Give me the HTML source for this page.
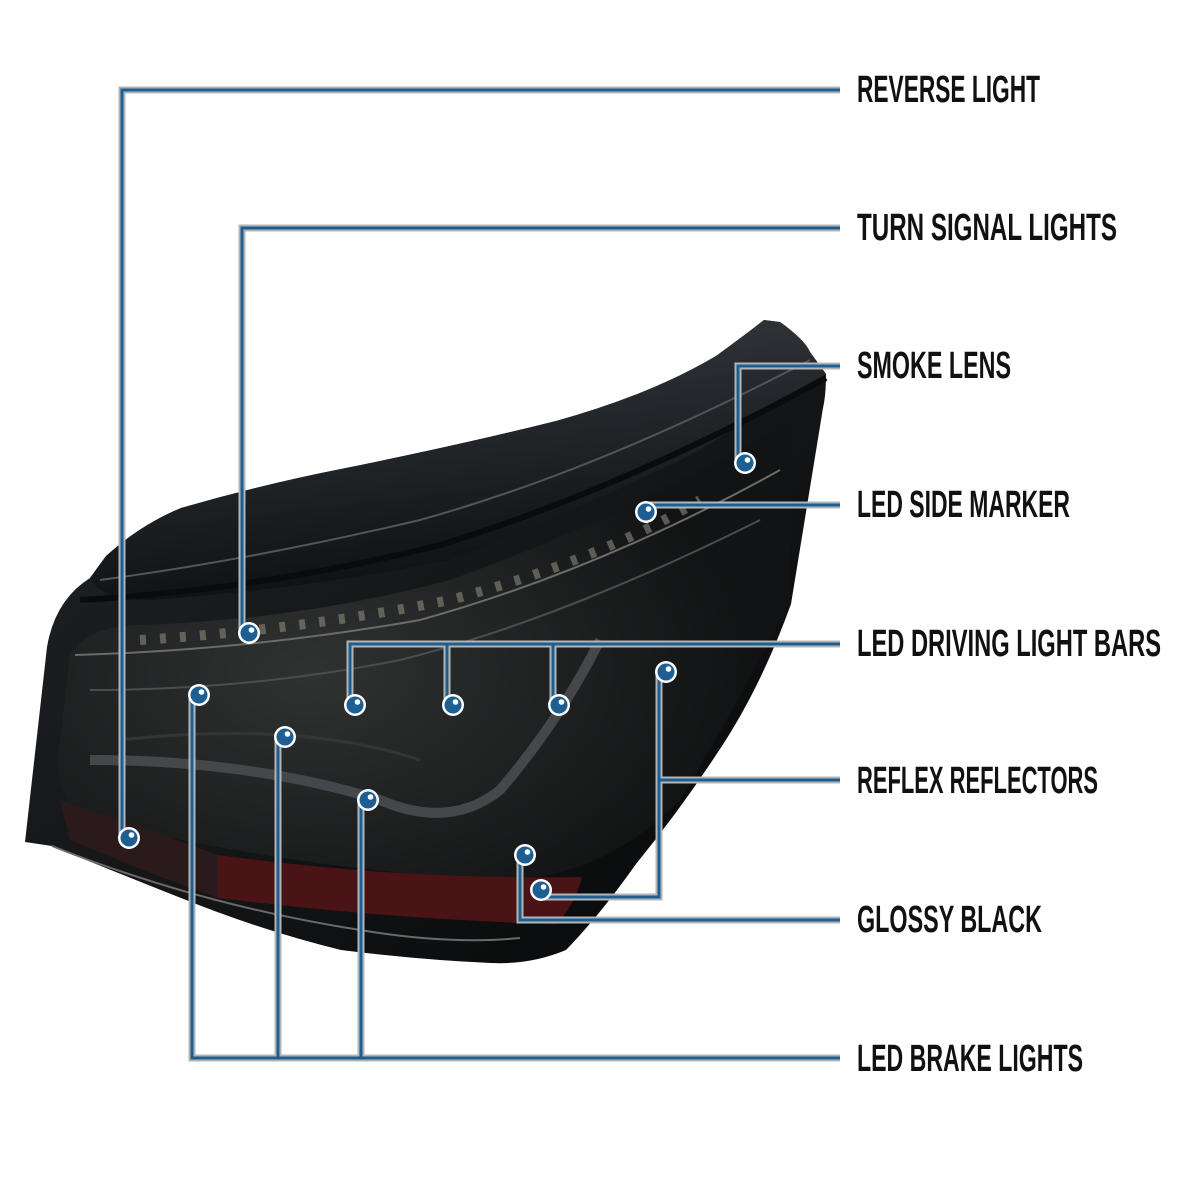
<!DOCTYPE html>
<html><head><meta charset="utf-8"><style>
html,body{margin:0;padding:0;background:#fff;}
svg{display:block;}
text{font-family:"Liberation Sans Narrow","Liberation Sans",sans-serif;font-size:38px;font-weight:bold;fill:#111;}
</style></head><body>
<svg width="1200" height="1200" viewBox="0 0 1200 1200" xmlns="http://www.w3.org/2000/svg">
<defs>
<linearGradient id="top" x1="0" y1="0" x2="0.3" y2="1">
<stop offset="0" stop-color="#3a3f44"/><stop offset="0.5" stop-color="#23272b"/><stop offset="1" stop-color="#0e1012"/>
</linearGradient>
<linearGradient id="body" x1="0" y1="0" x2="1" y2="1">
<stop offset="0" stop-color="#222528"/><stop offset="0.5" stop-color="#141618"/><stop offset="1" stop-color="#060707"/>
</linearGradient>
<radialGradient id="lens" cx="0.35" cy="0.55" r="0.6">
<stop offset="0" stop-color="#333535"/><stop offset="1" stop-color="#121314"/>
</radialGradient>
<g id="d"><circle r="11" fill="#fff"/><circle r="8.5" fill="#1d5f93"/><circle cx="2.5" cy="-3" r="2.8" fill="#fff"/></g>
</defs>
<!-- main body -->
<path d="M25,842 L47,647 Q55,600 90,578 L106,556 Q140,525 181,508 Q260,485 341,469 Q460,445 556,421 Q650,395 716,356 Q745,335 764,320 L780,322 Q805,340 810,352 L826,374 Q826,395 823,408 L791,604 Q760,690 716,755 Q680,810 636,864 Q600,915 566,950 Q530,965 491,963 Q420,960 341,950 Q260,930 181,898 Q110,870 52,846 Z" fill="url(#body)"/>
<!-- top spoiler glossy -->
<path d="M90,578 L106,556 Q140,525 181,508 Q260,485 341,469 Q460,445 556,421 Q650,395 716,356 Q745,335 764,320 L780,322 Q805,340 810,352 L826,374 Q760,410 700,450 Q600,500 450,560 Q300,590 150,600 Q100,600 90,578 Z" fill="url(#top)"/>
<path d="M100,580 Q250,560 420,520 Q600,470 810,360" stroke="#50565c" stroke-width="2" fill="none"/>
<path d="M80,600 Q260,590 440,545 Q620,490 826,378" stroke="#0a0b0c" stroke-width="6" fill="none"/>
<!-- lens area -->
<path d="M70,655 Q90,625 140,625 Q300,620 450,580 Q620,520 790,420 L790,600 Q740,700 680,800 Q600,880 500,880 Q300,870 90,820 Q60,810 58,760 Z" fill="url(#lens)" opacity="0.9"/>
<path d="M75,655 Q250,650 420,620 Q600,570 780,470" stroke="#6a6c6a" stroke-width="2" fill="none"/>
<path d="M90,690 Q250,690 400,660 Q560,620 760,520" stroke="#4c4e4e" stroke-width="2" fill="none"/>
<path d="M140,640 Q300,630 450,600 Q600,560 700,500" stroke="#8a8878" stroke-width="10" stroke-dasharray="6,14" fill="none" opacity="0.6"/>
<path d="M90,760 Q250,760 380,800 Q450,830 500,790 Q560,720 600,640" stroke="#45474a" stroke-width="10" fill="none"/>
<path d="M120,740 Q300,720 420,760" stroke="#333537" stroke-width="3" fill="none"/>
<!-- red band -->
<path d="M218,855 Q400,880 582,877 Q575,905 556,924 Q400,920 218,898 Z" fill="#4a1417"/>
<path d="M60,800 Q150,830 218,855 L218,898 Q140,870 70,840 Z" fill="#2a1a1c"/>
<path d="M52,846 Q200,905 360,930 Q450,945 520,938" stroke="#6a6a6a" stroke-width="2" fill="none"/>
<!-- connector lines -->
<g fill="none" stroke-linejoin="miter">
<g stroke="#b4b4b4" stroke-width="7">
<path d="M840,90 H122 V838"/>
<path d="M840,228 H242 V633"/>
<path d="M840,366 H738 V463"/>
<path d="M840,505 H646"/>
<path d="M840,644 H350 V705 M447,644 V705 M553,644 V705"/>
<path d="M840,780 H659 M659,672 V897 H541"/>
<path d="M840,920 H520 V855"/>
<path d="M840,1058 H192 V695 M278,1058 V737 M361,1058 V800"/>
</g>
<g stroke="#1d5f93" stroke-width="3">
<path d="M840,90 H122 V838"/>
<path d="M840,228 H242 V633"/>
<path d="M840,366 H738 V463"/>
<path d="M840,505 H646"/>
<path d="M840,644 H350 V705 M447,644 V705 M553,644 V705"/>
<path d="M840,780 H659 M659,672 V897 H541"/>
<path d="M840,920 H520 V855"/>
<path d="M840,1058 H192 V695 M278,1058 V737 M361,1058 V800"/>
</g>
</g>
<!-- dots -->
<use href="#d" x="129" y="838"/>
<use href="#d" x="249" y="633"/>
<use href="#d" x="745" y="463"/>
<use href="#d" x="646" y="512"/>
<use href="#d" x="355" y="705"/>
<use href="#d" x="453" y="705"/>
<use href="#d" x="559" y="705"/>
<use href="#d" x="666" y="672"/>
<use href="#d" x="541" y="890"/>
<use href="#d" x="525" y="855"/>
<use href="#d" x="199" y="695"/>
<use href="#d" x="285" y="737"/>
<use href="#d" x="368" y="800"/>
<!-- labels -->
<text x="857" y="102" textLength="183" lengthAdjust="spacingAndGlyphs">REVERSE LIGHT</text>
<text x="857" y="240" textLength="260" lengthAdjust="spacingAndGlyphs">TURN SIGNAL LIGHTS</text>
<text x="857" y="378" textLength="154" lengthAdjust="spacingAndGlyphs">SMOKE LENS</text>
<text x="857" y="517" textLength="213" lengthAdjust="spacingAndGlyphs">LED SIDE MARKER</text>
<text x="857" y="656" textLength="304" lengthAdjust="spacingAndGlyphs">LED DRIVING LIGHT BARS</text>
<text x="857" y="793" textLength="241" lengthAdjust="spacingAndGlyphs">REFLEX REFLECTORS</text>
<text x="857" y="932" textLength="185" lengthAdjust="spacingAndGlyphs">GLOSSY BLACK</text>
<text x="857" y="1071" textLength="226" lengthAdjust="spacingAndGlyphs">LED BRAKE LIGHTS</text>
</svg>
</body></html>
